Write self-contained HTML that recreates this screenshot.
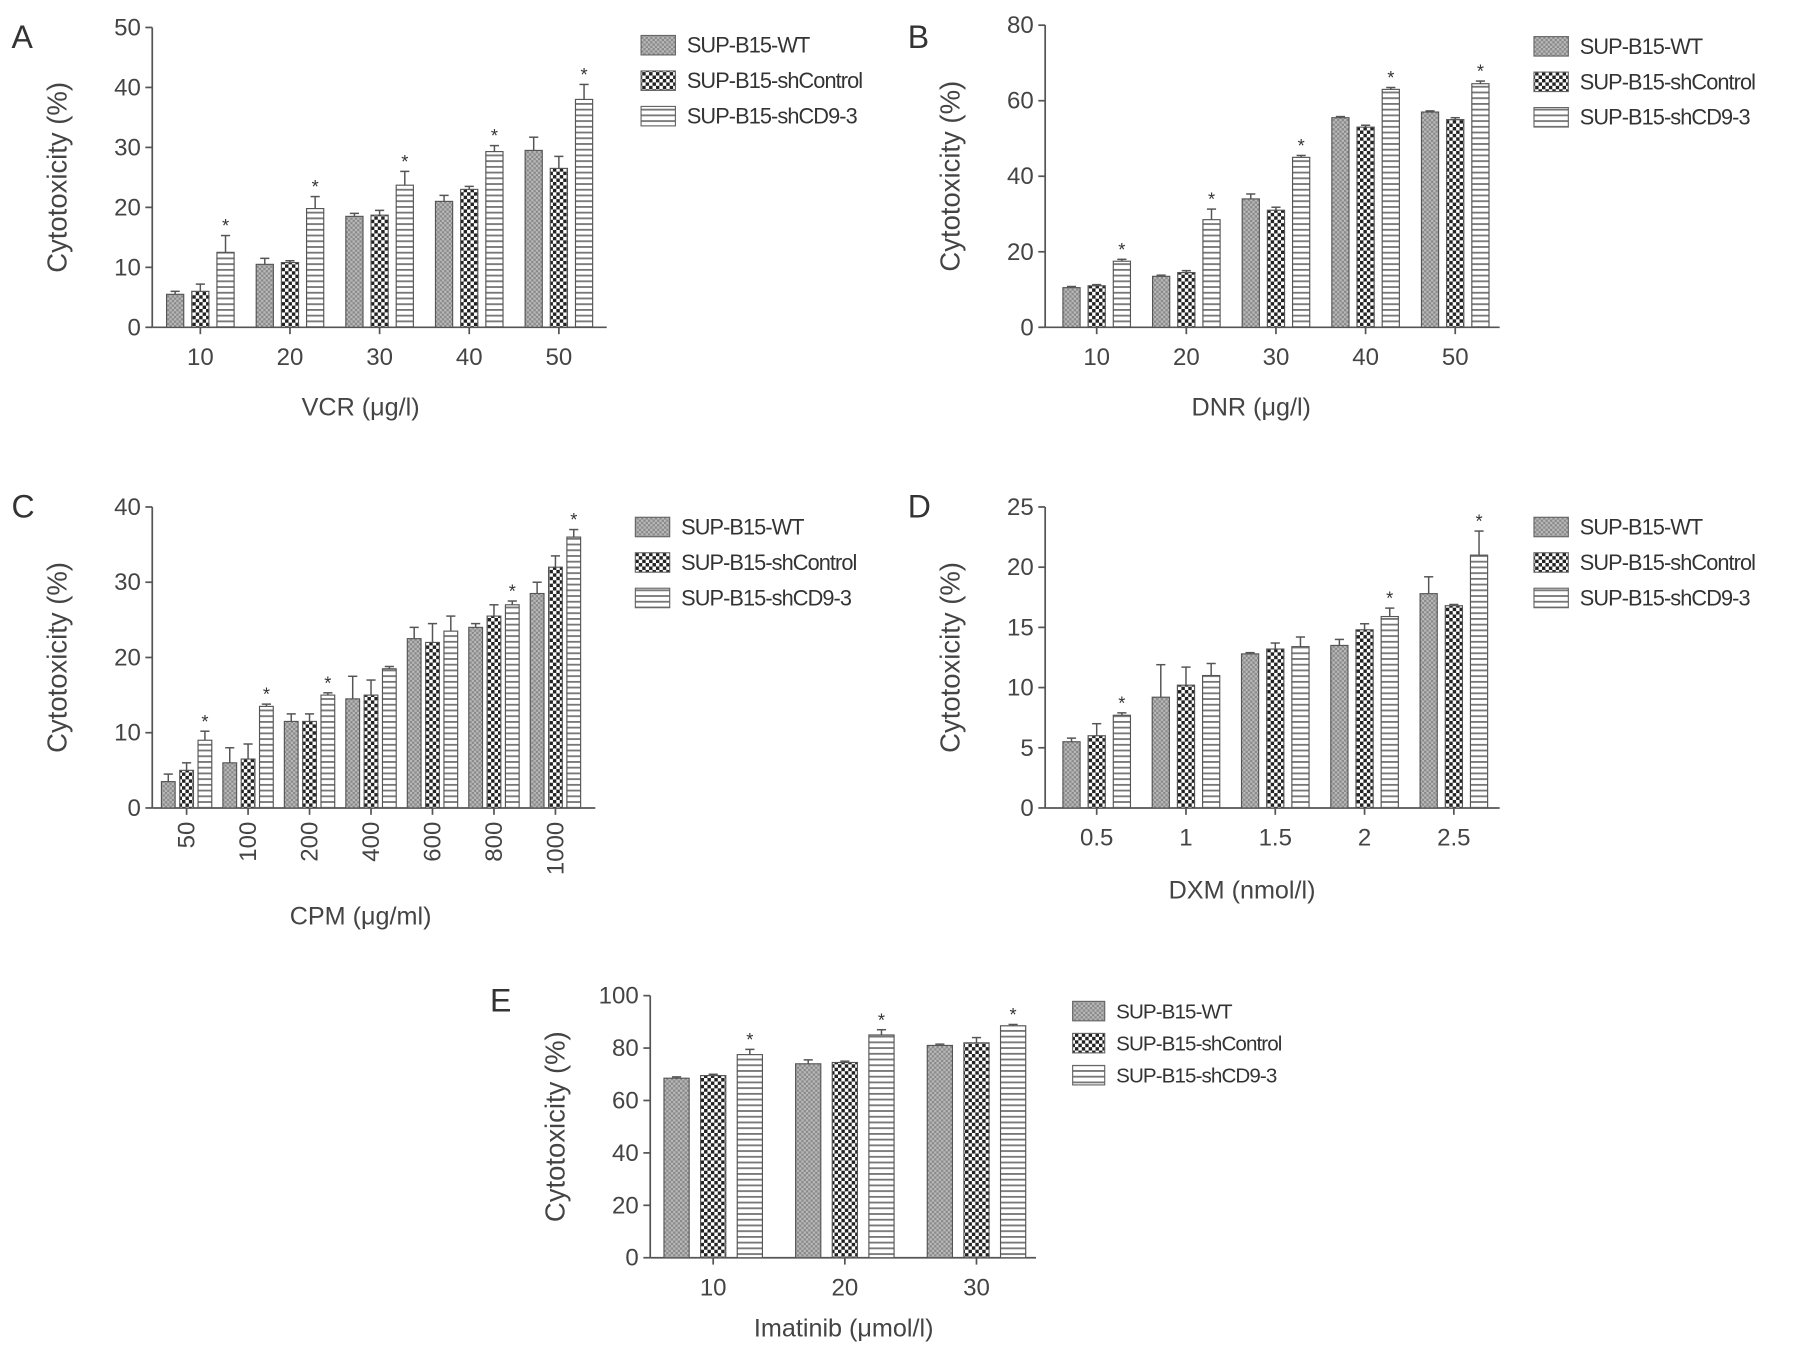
<!DOCTYPE html>
<html><head><meta charset="utf-8">
<style>
html,body{margin:0;padding:0;background:#fff;}
svg{display:block;font-family:"Liberation Sans",sans-serif;}
</style></head>
<body>
<svg id="fig" width="1795" height="1355" viewBox="0 0 1568 1184" preserveAspectRatio="none" xmlns="http://www.w3.org/2000/svg">
<defs>
<pattern id="pWT" width="4" height="4" patternUnits="userSpaceOnUse">
<rect width="4" height="4" fill="#b8b8b8"/><rect width="2" height="2" fill="#8a8a8a"/><rect x="2" y="2" width="2" height="2" fill="#8a8a8a"/>
</pattern>
<pattern id="pSH" width="6" height="6" patternUnits="userSpaceOnUse">
<rect width="6" height="6" fill="#fff"/><rect width="3" height="3" fill="#222"/><rect x="3" y="3" width="3" height="3" fill="#222"/>
</pattern>
<pattern id="pCD" width="6" height="5" patternUnits="userSpaceOnUse">
<rect width="6" height="5" fill="#fff"/><rect y="0" width="6" height="1.6" fill="#777"/>
</pattern>
</defs>
</svg>
<script>
// Panel A (VCR)
const catsA = ['10','20','30','40','50'];
const wtA = [5.5,10.5,18.5,21,29.5];
const shA = [6,10.8,18.7,23,26.5];
const cdA = [12.5,19.8,23.7,29.3,38];
const wtErrA = [0.5,1,0.5,1,2.2];
const shErrA = [1.2,0.3,0.8,0.5,2];
const cdErrA = [2.8,2,2.3,1,2.5];
const starA = [1,1,1,1,1];
const ticksA = [0,10,20,30,40,50];
// Panel B (DNR)
const catsB = ['10','20','30','40','50'];
const wtB = [10.5,13.5,34,55.5,57];
const shB = [11,14.5,31,53,55];
const cdB = [17.5,28.5,45,63,64.5];
const wtErrB = [0.3,0.3,1.3,0.3,0.3];
const shErrB = [0.3,0.5,0.8,0.5,0.5];
const cdErrB = [0.5,2.8,0.5,0.5,0.7];
const starB = [1,1,1,1,1];
const ticksB = [0,20,40,60,80];
// Panel C (CPM)
const catsC = ['50','100','200','400','600','800','1000'];
const wtC = [3.5,6,11.5,14.5,22.5,24,28.5];
const shC = [5,6.5,11.5,15,22,25.5,32];
const cdC = [9,13.5,15,18.5,23.5,27,36];
const wtErrC = [1,2,1,3,1.5,0.5,1.5];
const shErrC = [1,2,1,2,2.5,1.5,1.5];
const cdErrC = [1.2,0.3,0.3,0.3,2,0.5,1];
const starC = [1,1,1,0,0,1,1];
const ticksC = [0,10,20,30,40];
// Panel D (DXM)
const catsD = ['0.5','1','1.5','2','2.5'];
const wtD = [5.5,9.2,12.8,13.5,17.8];
const shD = [6,10.2,13.2,14.8,16.8];
const cdD = [7.7,11,13.4,15.9,21];
const wtErrD = [0.3,2.7,0.1,0.5,1.4];
const shErrD = [1,1.5,0.5,0.5,0.1];
const cdErrD = [0.2,1,0.8,0.7,2];
const starD = [1,0,0,1,1];
const ticksD = [0,5,10,15,20,25];
// Panel E (Imatinib)
const catsE = ['10','20','30'];
const wtE = [68.5,74,81];
const shE = [69.5,74.5,82];
const cdE = [77.5,85,88.5];
const wtErrE = [0.5,1.5,0.5];
const shErrE = [0.5,0.5,2];
const cdErrE = [2,2,0.5];
const starE = [1,1,1];
const ticksE = [0,20,40,60,80,100];

const NS='http://www.w3.org/2000/svg';
const svg=document.getElementById('fig');
function mk(tag,attrs,parent,txt){const e=document.createElementNS(NS,tag);for(const k in attrs)e.setAttribute(k,attrs[k]);if(txt!==undefined)e.textContent=txt;(parent||svg).appendChild(e);return e;}

function panel(cfg){
  const g=mk('g',{});
  
  
  const ymax=cfg.ticks[cfg.ticks.length-1];
  const Y=v=>cfg.y0-(v/ymax)*(cfg.y0-cfg.ytop);
  const X=i=>cfg.c0+i*cfg.step;
  const col='#555';
  const ya=mk('line',{x1:cfg.ax,y1:cfg.ytop,x2:cfg.ax,y2:cfg.y0,stroke:col,'stroke-width':1.5},g);
  
  const xa=mk('line',{x1:cfg.ax,y1:cfg.y0,x2:cfg.xend,y2:cfg.y0,stroke:col,'stroke-width':1.5},g);
  
  cfg.ticks.forEach(t=>{
    mk('line',{x1:cfg.ax-6,y1:Y(t),x2:cfg.ax,y2:Y(t),stroke:col,'stroke-width':1.5},g);
    const tl=mk('text',{x:cfg.ax-10,y:Y(t)+7,'text-anchor':'end','font-size':21,fill:'#444'},g,String(t));
    
  });
  const series=[[cfg.wt,cfg.wtE,'url(#pWT)'],[cfg.sh,cfg.shE,'url(#pSH)'],[cfg.cd,cfg.cdE,'url(#pCD)']];
  cfg.cats.forEach((c,i)=>{
    const cx=X(i);
    mk('line',{x1:cx,y1:cfg.y0,x2:cx,y2:cfg.y0+6,stroke:col,'stroke-width':1.5},g);
    let lab;
    if(cfg.rot){lab=mk('text',{x:0,y:0,'text-anchor':'end','font-size':21,fill:'#444',transform:`translate(${cx+7},${cfg.y0+12}) rotate(-90)`},g,c);}
    else lab=mk('text',{x:cx,y:cfg.y0+33,'text-anchor':'middle','font-size':21,fill:'#444'},g,c);
    
    series.forEach((s,k)=>{
      const v=s[0][i],e=s[1][i];
      const bx=cx+(k-1)*cfg.off-cfg.bw/2;
      const r=mk('rect',{x:bx,y:Y(v),width:cfg.bw,height:cfg.y0-Y(v),fill:s[2],stroke:'#555','stroke-width':1},g);
      
      
      const mx=bx+cfg.bw/2;
      mk('line',{x1:mx,y1:Y(v),x2:mx,y2:Y(v+e),stroke:'#555','stroke-width':1.3},g);
      mk('line',{x1:mx-4,y1:Y(v+e),x2:mx+4,y2:Y(v+e),stroke:'#555','stroke-width':1.3},g);
      if(k===2&&cfg.star[i]){
        const st=mk('text',{x:mx,y:Y(v+e)-3,'text-anchor':'middle','font-size':16,fill:'#333'},g,'*');
        
      }
    });
  });
  const yt=mk('text',{x:0,y:0,'text-anchor':'middle','font-size':24,fill:'#444',transform:`translate(${cfg.ax-75},${(cfg.y0+cfg.ytop)/2}) rotate(-90)`},g,'Cytotoxicity (%)');
  
  const xt=mk('text',{x:cfg.xtx,y:cfg.xty,'text-anchor':'middle','font-size':22,fill:'#444'},g,cfg.xtitle);
  
  const pl=mk('text',{x:cfg.lx,y:cfg.ly,'font-size':28,fill:'#333'},g,cfg.id);
  
  const names=['SUP-B15-WT','SUP-B15-shControl','SUP-B15-shCD9-3'];
  const fills=['url(#pWT)','url(#pSH)','url(#pCD)'];
  names.forEach((n,k)=>{
    const y=cfg.legy+k*cfg.legdy;
    const lg=mk('g',{},g);
    
    mk('rect',{x:cfg.legx,y:y-9,width:cfg.legw,height:17,fill:fills[k],stroke:'#666','stroke-width':1},lg);
    mk('text',{x:cfg.legx+cfg.legw+10,y:y+6,'font-size':cfg.legfs,fill:'#333','letter-spacing':'-0.8'},lg,n);
  });
}
panel({id:'A',cats:catsA,wt:wtA,sh:shA,cd:cdA,wtE:wtErrA,shE:shErrA,cdE:cdErrA,star:starA,ticks:ticksA,
  ax:133,y0:286,ytop:24,xend:530,c0:175,step:78.3,off:22,bw:15,xtitle:'VCR (\u03bcg/l)',xtx:315,xty:363,lx:10,ly:42,
  legx:560,legy:40,legdy:31,legw:30,legfs:19});
panel({id:'B',cats:catsB,wt:wtB,sh:shB,cd:cdB,wtE:wtErrB,shE:shErrB,cdE:cdErrB,star:starB,ticks:ticksB,
  ax:913,y0:286,ytop:22,xend:1310,c0:958,step:78.3,off:22,bw:15,xtitle:'DNR (\u03bcg/l)',xtx:1093,xty:363,lx:793,ly:42,
  legx:1340,legy:41,legdy:31,legw:30,legfs:19});
panel({id:'C',cats:catsC,wt:wtC,sh:shC,cd:cdC,wtE:wtErrC,shE:shErrC,cdE:cdErrC,star:starC,ticks:ticksC,
  ax:133,y0:706,ytop:443,xend:520,c0:163,step:53.7,off:16,bw:12,rot:true,xtitle:'CPM (\u03bcg/ml)',xtx:315,xty:808,lx:10,ly:452,
  legx:555,legy:461,legdy:31,legw:30,legfs:19});
panel({id:'D',cats:catsD,wt:wtD,sh:shD,cd:cdD,wtE:wtErrD,shE:shErrD,cdE:cdErrD,star:starD,ticks:ticksD,
  ax:913,y0:706,ytop:443,xend:1310,c0:958,step:78,off:22,bw:15,xtitle:'DXM (nmol/l)',xtx:1085,xty:785,lx:793,ly:452,
  legx:1340,legy:461,legdy:31,legw:30,legfs:19});
panel({id:'E',cats:catsE,wt:wtE,sh:shE,cd:cdE,wtE:wtErrE,shE:shErrE,cdE:cdErrE,star:starE,ticks:ticksE,
  ax:568,y0:1099,ytop:870,xend:905,c0:623,step:115,off:32,bw:22,xtitle:'Imatinib (\u03bcmol/l)',xtx:737,xty:1168,lx:428,ly:884,
  legx:937,legy:884,legdy:28,legw:28,legfs:18});
</script>
</body></html>
